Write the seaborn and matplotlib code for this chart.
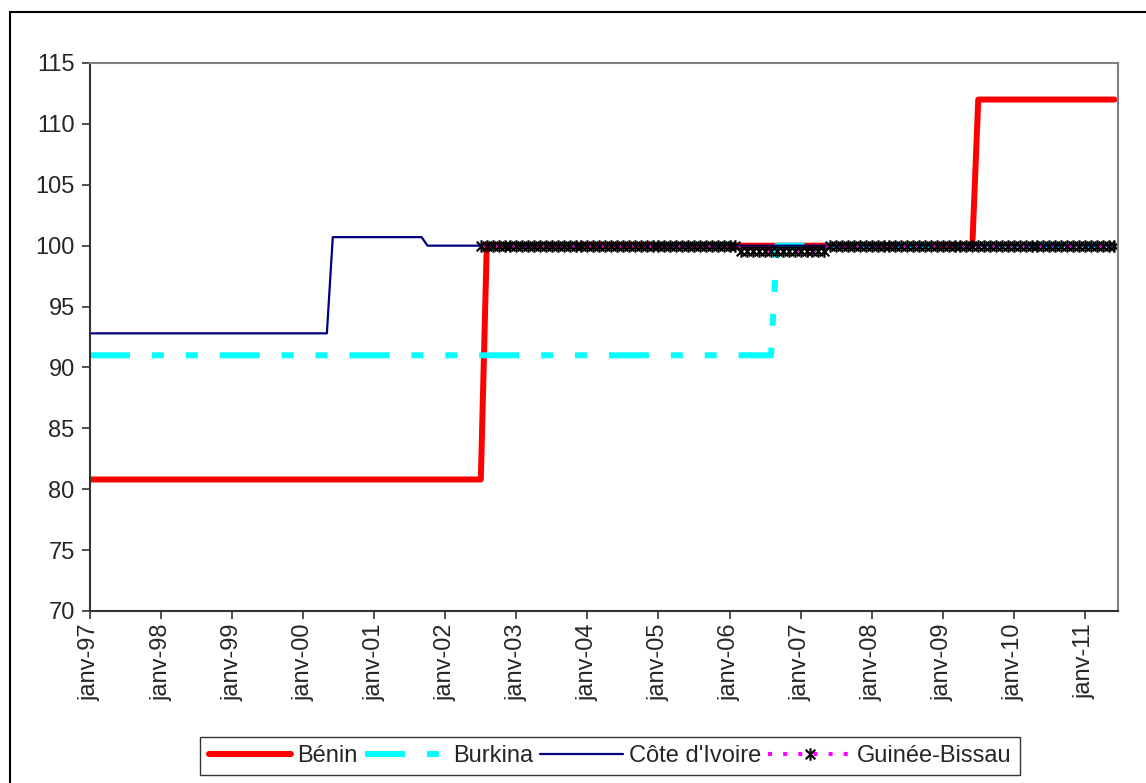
import numpy as np
import pandas as pd
import matplotlib
matplotlib.use("Agg")
import matplotlib.pyplot as plt
from matplotlib.path import Path
from matplotlib.patches import Rectangle
import seaborn as sns

# ---- data (monthly, janv-1997 .. juin-2011) ----
n_months = 174
months = list(range(n_months))
tick_labels = ["janv-97", "janv-98", "janv-99", "janv-00", "janv-01", "janv-02",
               "janv-03", "janv-04", "janv-05", "janv-06", "janv-07", "janv-08",
               "janv-09", "janv-10", "janv-11"]
benin = [80.8] * 67 + [100.0] * 83 + [112.0] * 24
burkina = [91.0] * 116 + [100.0] * 58
cote_ivoire = [92.8] * 41 + [100.7] * 16 + [100.0] * 117
guinee_bissau = [np.nan] * 66 + [100.0] * 44 + [99.6] * 15 + [100.0] * 49
series_names = ["Bénin", "Burkina", "Côte d'Ivoire", "Guinée-Bissau"]

df = pd.DataFrame({"mois": months, "Bénin": benin, "Burkina": burkina,
                   "Côte d'Ivoire": cote_ivoire, "Guinée-Bissau": guinee_bissau})

sns.set_style("white")
plt.rcParams["font.family"] = ["Liberation Sans", "DejaVu Sans"]
plt.rcParams["lines.scale_dashes"] = False

fig = plt.figure(figsize=(11.46, 7.83), dpi=100)
ax = fig.add_axes([90 / 1146, 1 - 611 / 783, (1118 - 90) / 1146, (611 - 63) / 783])

sns.lineplot(data=df, x="mois", y="Bénin", ax=ax, color="#FF0000", lw=4.3,
             label="Bénin", estimator=None, sort=False)
sns.lineplot(data=df, x="mois", y="Burkina", ax=ax, color="#00FFFF", lw=4.3,
             label="Burkina", estimator=None, sort=False)
sns.lineplot(data=df, x="mois", y="Côte d'Ivoire", ax=ax, color="#000080", lw=1.6,
             label="Côte d'Ivoire", estimator=None, sort=False)
star = Path([(-1, -1), (1, 1), (-1, 1), (1, -1), (0, -1.3), (0, 1.3)],
            [Path.MOVETO, Path.LINETO, Path.MOVETO, Path.LINETO, Path.MOVETO, Path.LINETO])
gb = df.dropna(subset=["Guinée-Bissau"])
sns.lineplot(data=gb, x="mois", y="Guinée-Bissau", ax=ax, color="#FF00FF", lw=3,
             label="Guinée-Bissau", estimator=None, sort=False,
             marker=star, markersize=9, markeredgecolor="black",
             markerfacecolor="none", markeredgewidth=1.5)

lines = ax.get_lines()
lines[1].set_dashes([28.8, 15.8, 8.6, 15.8, 8.6, 15.8])
lines[1].set_dash_capstyle("butt")
lines[3].set_dashes([2.9, 8.0])
lines[3].set_dash_capstyle("butt")

ax.set_xlim(0, 173.6)
ax.set_ylim(70, 115)
ax.set_yticks(range(70, 116, 5))
ax.set_xticks(range(0, 169, 12))
ax.set_xticklabels(tick_labels, rotation=90)
ax.set_xlabel("")
ax.set_ylabel("")
ax.tick_params(axis="both", labelsize=17, direction="out", length=6, width=1.2,
               color="#333333", bottom=True, left=True)
ax.tick_params(axis="y", pad=5)
ax.tick_params(axis="x", pad=3)
for s in ["left", "bottom"]:
    ax.spines[s].set_color("#333333")
    ax.spines[s].set_linewidth(1.5)
for s in ["top", "right"]:
    ax.spines[s].set_color("#808080")
    ax.spines[s].set_linewidth(1.5)

handles, labels = ax.get_legend_handles_labels()
ax.get_legend().remove()
leg = fig.legend(handles, labels, loc="center", bbox_to_anchor=(610 / 1146, 1 - 756 / 783),
                 ncol=4, frameon=True, fancybox=False, edgecolor="black", fontsize=17,
                 handlelength=3.5, columnspacing=0.3, handletextpad=0.25,
                 borderpad=0.35, borderaxespad=0)
leg.get_frame().set_linewidth(1.0)

fig.patches.append(Rectangle((10 / 1146, -0.1), 1.2, 1 - 12 / 783 + 0.1, fill=False,
                             edgecolor="black", lw=1.5, transform=fig.transFigure,
                             figure=fig))

fig.savefig("out.png", dpi=100)
